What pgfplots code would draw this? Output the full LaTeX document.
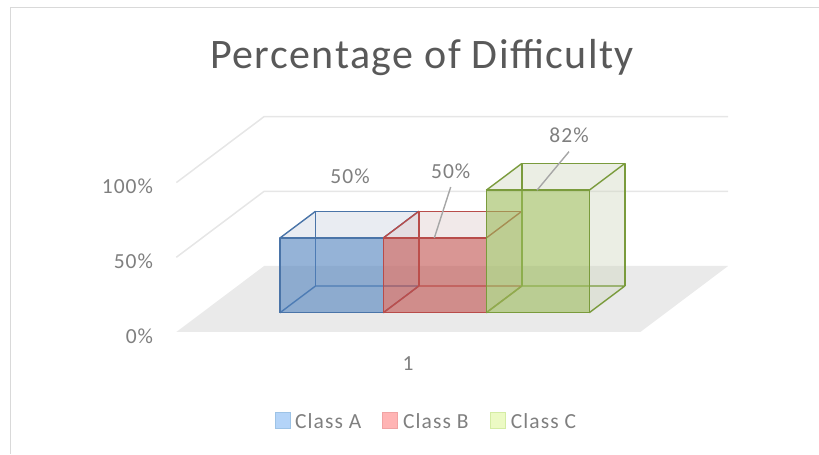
\documentclass[border=0pt]{standalone}
\usepackage{pgfplots}
\pgfplotsset{compat=1.18}
\usepackage{fontspec}
\setmainfont{Carlito}
\newfontfamily\titlefont[LetterSpace=3.5]{Carlito}
\newfontfamily\lblfont[LetterSpace=5]{Carlito}

\definecolor{titlegray}{HTML}{595959}
\definecolor{labelgray}{HTML}{7F7F7F}
\definecolor{leadergray}{HTML}{A6A6A6}
\definecolor{floorgray}{HTML}{EAEAEA}
\definecolor{gridgray}{HTML}{E6E6E6}
\definecolor{framegray}{HTML}{D9D9D9}
\definecolor{Abase}{HTML}{4F81BD}
\definecolor{Aedge}{HTML}{4A74A8}
\definecolor{Atop}{HTML}{C9D0DE}
\definecolor{Bbase}{HTML}{C0504D}
\definecolor{Bedge}{HTML}{B84C4A}
\definecolor{Btop}{HTML}{DCC8C8}
\definecolor{Cbase}{HTML}{9BBB59}
\definecolor{Cedge}{HTML}{7A9B3C}
\definecolor{Ctop}{HTML}{CED5BC}
\definecolor{legA}{HTML}{B4D4F8}
\definecolor{legAe}{HTML}{9DC3E6}
\definecolor{legB}{HTML}{FFB4B4}
\definecolor{legBe}{HTML}{F0A3A3}
\definecolor{legC}{HTML}{ECFAC4}
\definecolor{legCe}{HTML}{D4ECA4}

% #1 left x, #2 right x, #3 value (%), #4 base colour, #5 edge colour, #6 top/side colour
\newcommand{\cube}[6]{%
  \addplot3[draw=none, fill=#6, fill opacity=0.4, forget plot] coordinates {(#1,0,#3) (#2,0,#3) (#2,26.7,#3) (#1,26.7,#3)};
  \addplot3[draw=none, fill=#6, fill opacity=0.4, forget plot] coordinates {(#2,0,0) (#2,26.7,0) (#2,26.7,#3) (#2,0,#3)};
  \addplot3[draw=#5, line width=1.4bp, line join=round, forget plot] coordinates {(#1,0,0) (#1,26.7,0) (#2,26.7,0) (#2,0,0)};
  \addplot3[draw=#5, line width=1.4bp, line join=round, forget plot] coordinates {(#1,26.7,0) (#1,26.7,#3) (#2,26.7,#3) (#2,26.7,0)};
  \addplot3[draw=#5, line width=1.4bp, forget plot] coordinates {(#1,0,#3) (#1,26.7,#3)};
  \addplot3[draw=#5, line width=1.4bp, forget plot] coordinates {(#2,0,#3) (#2,26.7,#3)};
  \addplot3[draw=none, fill=#4, fill opacity=0.6, forget plot] coordinates {(#1,0,0) (#2,0,0) (#2,0,#3) (#1,0,#3)};
  \addplot3[draw=#5, line width=1.4bp, line join=round, forget plot] coordinates {(#1,0,0) (#2,0,0) (#2,0,#3) (#1,0,#3) (#1,0,0)};
}

\tikzset{lbl/.style={text=labelgray, font=\lblfont\fontsize{21.5bp}{25bp}\selectfont, inner sep=0pt}}

\begin{document}
\begin{tikzpicture}
\begin{axis}[
  x={(1bp,0bp)}, y={(1.33bp,1bp)}, z={(0bp,1.494bp)},
  xmin=0, xmax=819, ymin=-20, ymax=47, zmin=-95, zmax=210,
  hide axis, clip=false, no markers,
]
% frame
\draw[framegray, line width=1.5bp] (axis cs:10.7,0,-94.6) -- (axis cs:10.7,0,204.4) -- (axis cs:819,0,204.4);
% floor
\addplot3[fill=floorgray, draw=none, forget plot] coordinates {(202,-19.3,0) (666,-19.3,0) (666,46.7,0) (202,46.7,0)};
% gridlines
\addplot3[draw=gridgray, line width=1.5bp, forget plot] coordinates {(202,-19.3,50) (202,46.7,50) (666,46.7,50)};
\addplot3[draw=gridgray, line width=1.5bp, forget plot] coordinates {(202,-19.3,100) (202,46.7,100) (666,46.7,100)};
% bars
\cube{280}{383.3}{50}{Abase}{Aedge}{Atop}
\cube{383.3}{486.3}{50}{Bbase}{Bedge}{Btop}
\cube{486.3}{589.3}{82}{Cbase}{Cedge}{Ctop}
% leader lines
\addplot3[draw=leadergray, line width=1.4bp, forget plot] coordinates {(450.7,0,84.1) (434.3,0,50)};
\addplot3[draw=leadergray, line width=1.4bp, forget plot] coordinates {(569,0,107.8) (537,0,82)};
% data labels
\node[lbl] at (axis cs:350,0,91.5) {50\%};
\node[lbl] at (axis cs:450.7,0,95) {50\%};
\node[lbl] at (axis cs:569,0,118.9) {82\%};
% tick labels
\node[lbl, anchor=east] at (axis cs:153.3,0,84.3) {100\%};
\node[lbl, anchor=east] at (axis cs:153.3,0,34.1) {50\%};
\node[lbl, anchor=east] at (axis cs:153.3,0,-16.1) {0\%};
\node[lbl] at (axis cs:408,0,-34.3) {1};
% title
\node[text=titlegray, font=\titlefont\fontsize{42bp}{48bp}\selectfont, inner sep=0pt, anchor=base] at (axis cs:422,0,163.6) {Percentage of Difficulty};
% legend
\draw[fill=legA, draw=legAe, line width=1bp] (axis cs:275,0,-77.2) rectangle (axis cs:290,0,-67.1);
\draw[fill=legB, draw=legBe, line width=1bp] (axis cs:382.7,0,-77.2) rectangle (axis cs:397.7,0,-67.1);
\draw[fill=legC, draw=legCe, line width=1bp] (axis cs:490,0,-77.2) rectangle (axis cs:505,0,-67.1);
\node[lbl, anchor=base west] at (axis cs:295,0,-77.2) {Class A};
\node[lbl, anchor=base west] at (axis cs:403,0,-77.2) {Class B};
\node[lbl, anchor=base west] at (axis cs:510.7,0,-77.2) {Class C};
% bounding box
\coordinate (BL) at (axis cs:0,0,-94.58);
\coordinate (TR) at (axis cs:819,0,209.3);
\end{axis}
\pgfresetboundingbox
\useasboundingbox (BL) rectangle (TR);
\end{tikzpicture}
\end{document}
